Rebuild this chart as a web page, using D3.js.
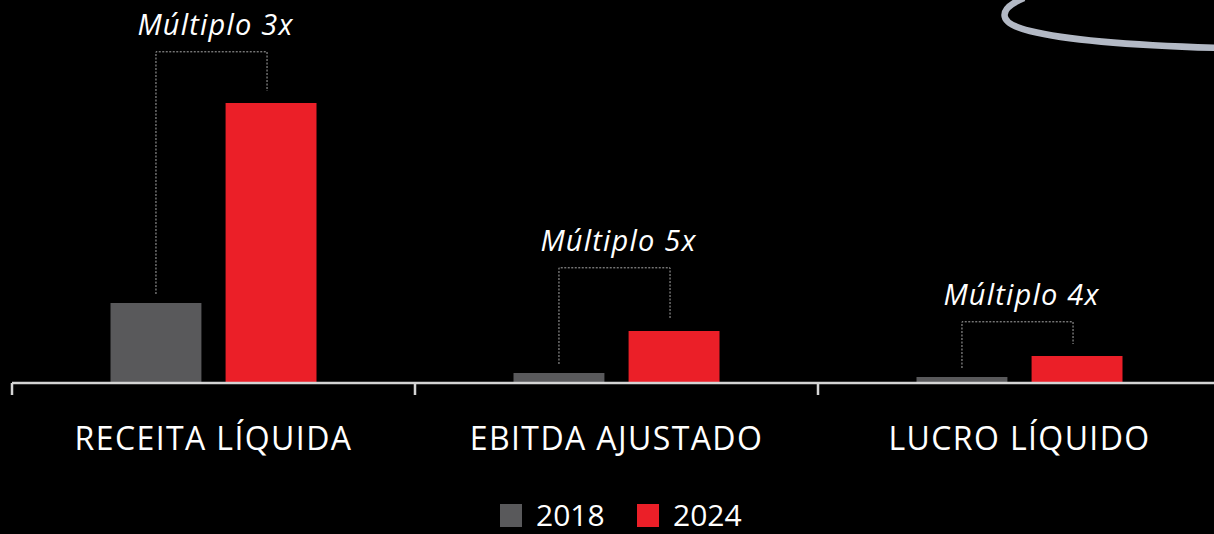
<!DOCTYPE html>
<html>
<head>
<meta charset="utf-8">
<script src="https://cdn.jsdelivr.net/npm/d3@7"></script>
<style>
  html, body { margin: 0; padding: 0; background: #000; overflow: hidden; }
</style>
</head>
<body>
<svg id="drawing_region"></svg>
<script>
// data (relative units)
const categories = ['RECEITA LÍQUIDA', 'EBITDA AJUSTADO', 'LUCRO LÍQUIDO']
const years = ['2018', '2024']
const values2018 = [2.0, 0.25, 0.15]
const values2024 = [7.0, 1.3, 0.675]
const multipleLabels = ['Múltiplo 3x', 'Múltiplo 5x', 'Múltiplo 4x']
const bracketLevels = [8.28, 2.88, 1.53]
const colors = ['#59595b', '#eb1f28']

const width = 1214, height = 534
const svg = d3.select('#drawing_region')
    .attr('width', width)
    .attr('height', height)
    .style('background', '#000')

const baseY = 383
const groupW = 206
const xscale = d3.scaleBand().domain(categories).range([12, 1221])
const xinner = d3.scaleBand().domain(years).range([0, groupW]).paddingInner(0.21)
const yscale = d3.scaleLinear().domain([0, 7]).range([baseY, 103])

const rows = categories.map((c, i) => ({
    cat: c, v: [values2018[i], values2024[i]], label: multipleLabels[i], level: bracketLevels[i]
}))

// decorative arc top right
svg.append('path')
    .attr('d', 'M1024,-2 C1000,8 994,22 1030,31 C1070,41 1150,46 1220,48')
    .attr('fill', 'none')
    .attr('stroke', '#b3b9c5')
    .attr('stroke-width', 6.5)

const groups = svg.selectAll('g.grp')
    .data(rows).enter()
    .append('g')
    .attr('class', 'grp')
    .attr('transform', d => `translate(${xscale(d.cat) + (xscale.bandwidth() - groupW) / 2},0)`)

groups.selectAll('rect')
    .data(d => d.v.map((v, j) => ({year: years[j], v: v, j: j})))
    .enter().append('rect')
    .attr('x', d => xinner(d.year))
    .attr('y', d => yscale(d.v))
    .attr('width', xinner.bandwidth())
    .attr('height', d => baseY - yscale(d.v))
    .attr('fill', d => colors[d.j])

// dashed brackets
groups.append('path')
    .attr('d', d => {
        const x1 = xinner('2018') + xinner.bandwidth() / 2
        const x2 = xinner('2024') + xinner.bandwidth() / 2 - 4
        const top = yscale(d.level)
        return `M${x1},${yscale(d.v[0]) - 9} V${top} H${x2} V${yscale(d.v[1]) - 12}`
    })
    .attr('fill', 'none')
    .attr('stroke', '#a8a8a8')
    .attr('stroke-width', 1)
    .attr('stroke-dasharray', '2,1.5')

groups.append('text')
    .attr('x', groupW / 2 + 2)
    .attr('y', d => yscale(d.level) - 17)
    .attr('text-anchor', 'middle')
    .attr('fill', '#fff')
    .attr('font-family', 'Open Sans')
    .attr('font-style', 'italic')
    .attr('font-size', 29)
    .attr('letter-spacing', 1.2)
    .text(d => d.label)

// axis
const xaxis = d3.axisBottom(xscale).tickSize(0).tickPadding(44)
const xaxis_group = svg.append('g')
    .attr('transform', `translate(0,${baseY})`)
    .call(xaxis)
xaxis_group.select('.domain').remove()
xaxis_group.append('line')
    .attr('x1', 12).attr('x2', width + 10)
    .attr('stroke', '#d4d4d4').attr('stroke-width', 2.5)
xaxis_group.selectAll('.sep')
    .data(categories).enter()
    .append('line')
    .attr('class', 'sep')
    .attr('x1', d => xscale(d)).attr('x2', d => xscale(d))
    .attr('y1', 0).attr('y2', 12)
    .attr('stroke', '#d4d4d4').attr('stroke-width', 2.5)
xaxis_group.selectAll('.tick text')
    .attr('fill', '#fff')
    .attr('font-family', 'Open Sans')
    .attr('font-size', 32)
    .attr('letter-spacing', 1.4)

// legend
const legend = svg.append('g').attr('transform', 'translate(500,504)')
const litems = legend.selectAll('g')
    .data(years).enter()
    .append('g')
    .attr('transform', (d, i) => `translate(${i * 137},0)`)
litems.append('rect')
    .attr('width', 22).attr('height', 23)
    .attr('fill', (d, i) => colors[i])
litems.append('text')
    .attr('x', 36).attr('y', 22)
    .attr('fill', '#fff')
    .attr('font-family', 'Open Sans')
    .attr('font-size', 30)
    .text(d => d)
</script>
</body>
</html>
